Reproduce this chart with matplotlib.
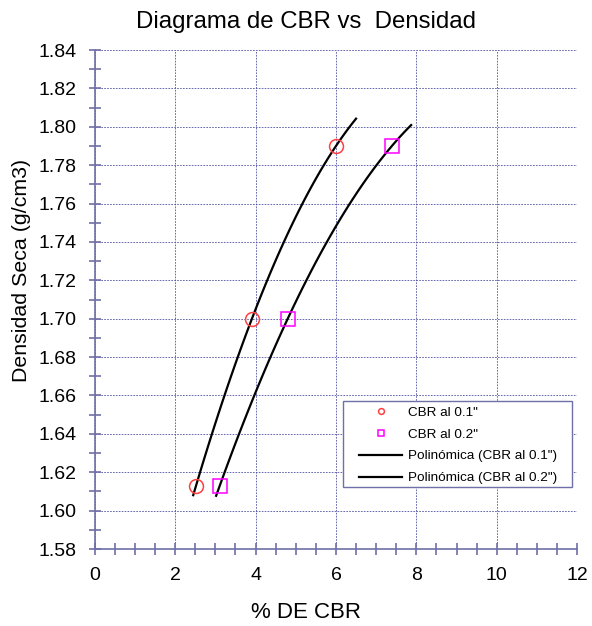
import numpy as np
import matplotlib.pyplot as plt
from matplotlib.patches import Rectangle
from matplotlib.ticker import MultipleLocator

plt.rcParams['font.family'] = ['Liberation Sans', 'DejaVu Sans']

# ensayo CBR: % de CBR para cada densidad seca
densidad = [1.613, 1.700, 1.790]
cbr_01 = [2.52, 3.91, 6.00]
cbr_02 = [3.11, 4.80, 7.39]

# extension de las lineas de tendencia (x inicial, x final)
rango_01 = (2.45, 6.50)
rango_02 = (3.02, 7.87)

eje = '#7070a8'

fig = plt.figure(figsize=(5.92, 6.26), dpi=100)
ax = fig.add_axes([0.160, 0.123, 0.815, 0.797])

ax.plot(cbr_01, densidad, 'o', mfc='none', mec='#ff4040', ms=10, mew=1.1,
        label='CBR al 0.1"', zorder=4)
ax.plot(cbr_02, densidad, 's', mfc='none', mec='#ff00ff', ms=9.5, mew=1.1,
        label='CBR al 0.2"', zorder=4)

# polinomica de grado 2 (como la linea de tendencia de Excel)
for cbr, rng, nombre in [(cbr_01, rango_01, 'Polinómica (CBR al 0.1")'),
                         (cbr_02, rango_02, 'Polinómica (CBR al 0.2")')]:
    p = np.polyfit(cbr, densidad, 2)
    xs = np.linspace(rng[0], rng[1], 100)
    ax.plot(xs, np.polyval(p, xs), color='black', lw=1.6, label=nombre, zorder=3)

ax.set_xlim(0, 12)
ax.set_ylim(1.58, 1.84)
ax.xaxis.set_major_locator(MultipleLocator(2))
ax.xaxis.set_minor_locator(MultipleLocator(0.5))
ax.yaxis.set_major_locator(MultipleLocator(0.02))
ax.yaxis.set_minor_locator(MultipleLocator(0.01))
ax.yaxis.set_major_formatter(lambda v, pos: f'{v:.2f}')

ax.grid(True, which='major', color='#5050a0', ls=(0, (2, 1.5)), lw=0.6)
for s in ['top', 'right']:
    ax.spines[s].set_visible(False)
for s in ['left', 'bottom']:
    ax.spines[s].set_color(eje)
    ax.spines[s].set_linewidth(1.2)
ax.tick_params(which='both', direction='inout', color=eje, width=1.2,
               length=8, labelsize=14)
ax.tick_params(axis='y', pad=9)
ax.tick_params(axis='x', pad=9)

ax.set_title('Diagrama de CBR vs  Densidad', fontsize=17.3, x=0.438, pad=16)
ax.set_xlabel('% DE CBR', fontsize=16, va='center')
ax.xaxis.set_label_coords(0.438, -0.128)
ax.set_ylabel('Densidad Seca (g/cm3)', fontsize=15.4, va='center')
ax.yaxis.set_label_coords(-0.151, 0.559)

# cuadro de la leyenda
ax.add_patch(Rectangle((0.515, 0.124), 0.475, 0.173, transform=ax.transAxes,
                       facecolor='white', edgecolor=eje, lw=1.0, zorder=5))
leg = ax.legend(loc='upper left', bbox_to_anchor=(0.548, 0.286),
                fontsize=9.7, frameon=False, markerscale=0.42,
                handlelength=3.2, handletextpad=0.45, borderpad=0,
                borderaxespad=0, labelspacing=0.7)
leg.set_zorder(6)

fig.savefig('out.png', dpi=100)
